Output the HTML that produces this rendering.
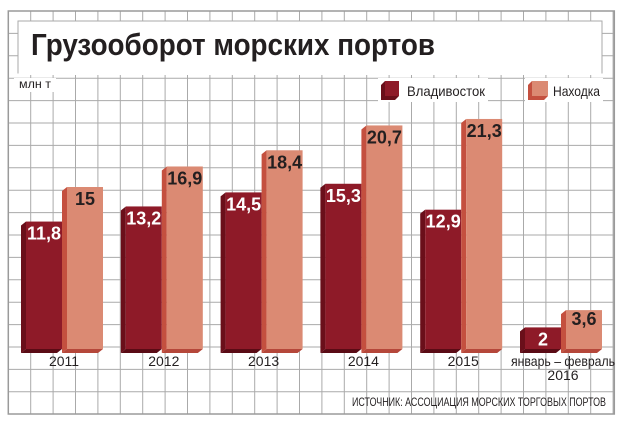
<!DOCTYPE html>
<html><head><meta charset="utf-8"><style>
html,body{margin:0;padding:0;background:#fff}
svg{display:block}
text{font-family:"Liberation Sans Narrow","Liberation Sans",sans-serif}
</style></head><body>
<svg id="chart" width="620" height="427" viewBox="0 0 620 427" xmlns="http://www.w3.org/2000/svg">
<rect x="0" y="0" width="620" height="427" fill="#fff"/>
<g id="grid"></g>
<rect x="8.3" y="11" width="606" height="403" fill="none" stroke="#9a9a9a" stroke-width="1.5"/>
<rect x="18" y="21" width="584" height="52" fill="#fff" stroke="#aaa" stroke-width="1"/>
<rect x="18.5" y="72" width="583" height="3" fill="#fff"/>
<text x="31" y="55" font-size="31" font-weight="bold" fill="#231f20" textLength="404" lengthAdjust="spacingAndGlyphs">Грузооборот морских портов</text>
<rect x="14" y="78" width="42" height="14" fill="#fff"/>
<text x="19" y="88" font-size="12" fill="#231f20" textLength="32" lengthAdjust="spacingAndGlyphs">млн т</text>
<g>
 <rect x="378" y="78" width="110" height="24" fill="#fff"/>
 <g>
  <polygon points="381,85 385,81 399,81 399,96 395,100 381,100" fill="#6a0f1a"/>
  <rect x="385" y="81" width="14" height="15" fill="#8e1a28"/>
  <text x="407" y="96" font-size="14" fill="#231f20" textLength="78" lengthAdjust="spacingAndGlyphs">Владивосток</text>
 </g>
 <rect x="525" y="78" width="78" height="24" fill="#fff"/>
 <g>
  <polygon points="528,85 532,81 548,81 548,96 544,100 528,100" fill="#c4503f"/>
  <rect x="532" y="81" width="16" height="15" fill="#db8a73"/>
  <text x="553" y="96" font-size="14" fill="#231f20" textLength="47" lengthAdjust="spacingAndGlyphs">Находка</text>
 </g>
</g>
<g id="bars"></g>
<g id="labels"></g>
<text x="606" y="406" font-size="12" fill="#231f20" text-anchor="end" textLength="254" lengthAdjust="spacingAndGlyphs">ИСТОЧНИК: АССОЦИАЦИЯ МОРСКИХ ТОРГОВЫХ ПОРТОВ</text>
</svg>
<script>
const categories = ["2011","2012","2013","2014","2015","январь – февраль|2016"];
const vladivostok = [11.8,13.2,14.5,15.3,12.9,2];
const nakhodka = [15,16.9,18.4,20.7,21.3,3.6];
const vladLabels = ["11,8","13,2","14,5","15,3","12,9","2"];
const nakhLabels = ["15","16,9","18,4","20,7","21,3","3,6"];

const NS="http://www.w3.org/2000/svg";
const base=349, pxPerUnit=10.8, groupX0=26, groupStep=99.8, barW=36, depth=5;
function yScale(v){return base - v*pxPerUnit;}
function xGroup(i){return groupX0 + i*groupStep;}
function mk(tag,attrs,parent){const e=document.createElementNS(NS,tag);for(const k in attrs)e.setAttribute(k,attrs[k]);parent.appendChild(e);return e;}

const grid=document.getElementById('grid');
for(let x=8.3+22.4;x<614;x+=22.4){
  const l=mk('line',{x1:x,x2:x,y1:11,y2:414,stroke:'#aaa','stroke-width':1},grid);
  
  
}
for(let y=11+22.4;y<414;y+=22.4){
  const l=mk('line',{x1:8.3,x2:614,y1:y,y2:y,stroke:'#aaa','stroke-width':1},grid);
  
  
}

const bars=document.getElementById('bars');
function drawBar(fx,v,front,side,bottom,label,labelColor,name,lblOff){
  const g=mk('g',{},bars);
  
  
  const t=yScale(v);
  mk('polygon',{points:`${fx-depth},${t+4} ${fx},${t} ${fx},${base} ${fx-depth},${base+4}`,fill:side},g);
  mk('polygon',{points:`${fx-depth},${base+4} ${fx+barW-depth},${base+4} ${fx+barW},${base} ${fx},${base}`,fill:bottom},g);
  mk('rect',{x:fx,y:t,width:barW,height:base-t,fill:front},g);
  const tx=mk('text',{x:fx+barW/2,y:t+lblOff,'font-size':18,'font-weight':'bold','text-anchor':'middle',fill:labelColor,'font-family':'"Liberation Sans",sans-serif'},g);
  tx.textContent=label;
  
  
}
categories.forEach((c,i)=>{
  const gx=xGroup(i);
  drawBar(gx,vladivostok[i],'#8e1a28','#6a0f1a','#5a0b15',vladLabels[i],'#fff','bar-vladivostok-'+i,18);
  drawBar(gx+41,nakhodka[i],'#db8a73','#c4503f','#b5473a',nakhLabels[i],'#231f20','bar-nakhodka-'+i,i===5?15:18);
  const parts=c.split('|');
  const lg=document.getElementById('labels');
  parts.forEach((p,j)=>{
    const t=mk('text',{x:gx+38,y:366+j*14,'font-size':14,'text-anchor':'middle',fill:'#231f20'},lg);
    if(p.length>6){t.setAttribute('textLength','104');t.setAttribute('lengthAdjust','spacingAndGlyphs');}
    t.textContent=p;
    
    
  });
});
</script>
</body></html>
